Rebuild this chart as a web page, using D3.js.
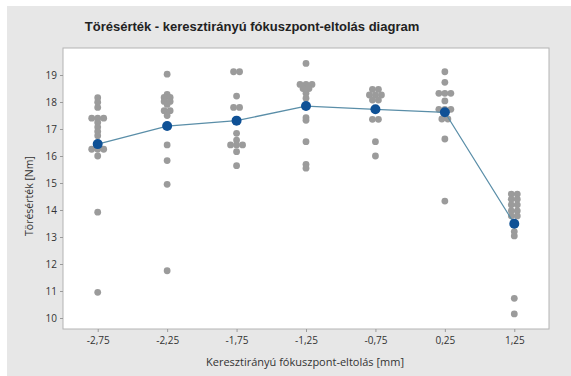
<!DOCTYPE html>
<html>
<head>
<meta charset="utf-8">
<script src="https://cdn.jsdelivr.net/npm/d3@7/dist/d3.min.js"></script>
<style>
  html, body { margin: 0; padding: 0; background: #ffffff; }
  svg { display: block; }
</style>
</head>
<body>
<svg id="chart" width="571" height="376"></svg>
<script>
// Offset categories (mm) along the x axis
const categories = ["-2,75", "-2,25", "-1,75", "-1,25", "-0,75", "0,25", "1,25"];

// Individual breaking values (Nm) per offset; repeated values sit side by side
const values_m275 = [18.16, 17.99, 17.80, 17.40, 17.40, 17.40, 17.24, 17.07, 16.91, 16.75, 16.45, 16.25, 16.25, 16.25, 16.00, 13.92, 10.95];
const values_m225 = [19.03, 18.28, 18.17, 18.17, 18.02, 18.02, 17.91, 17.68, 17.68, 17.50, 16.41, 15.83, 14.95, 11.75];
const values_m175 = [19.12, 19.12, 18.22, 17.80, 17.80, 16.84, 16.59, 16.41, 16.41, 16.41, 16.16, 15.64];
const values_m125 = [19.43, 18.65, 18.65, 18.65, 18.50, 18.50, 18.32, 18.14, 17.42, 17.32, 16.53, 15.69, 15.55];
const values_m075 = [18.47, 18.47, 18.26, 18.26, 18.26, 18.07, 18.07, 17.36, 17.36, 16.53, 16.00];
const values_p025 = [19.12, 18.73, 18.32, 18.32, 18.32, 18.04, 17.73, 17.73, 17.73, 17.37, 17.37, 16.63, 14.33];
const values_p125 = [14.59, 14.59, 14.40, 14.40, 14.19, 14.19, 13.97, 13.97, 13.78, 13.78, 13.20, 13.04, 10.73, 10.15];

// Mean breaking value per offset
const means = [16.44, 17.11, 17.31, 17.85, 17.73, 17.62, 13.49];

// y axis ticks
const yTicks = [10, 11, 12, 13, 14, 15, 16, 17, 18, 19];

const title = "Törésérték - keresztirányú fókuszpont-eltolás diagram";
const xTitle = "Keresztirányú fókuszpont-eltolás [mm]";
const yTitle = "Törésérték [Nm]";

const groups = [values_m275, values_m225, values_m175, values_m125, values_m075, values_p025, values_p125];

const svg = d3.select("#chart");
const W = 571, H = 376;
const plot = { left: 63, right: 549, top: 48, bottom: 329 };

// panel background
svg.append("rect").attr("x", 0).attr("y", 0).attr("width", W).attr("height", H).attr("fill", "#ffffff");
svg.append("rect").attr("x", 7).attr("y", 6).attr("width", W - 7).attr("height", H - 6).attr("fill", "#e7e7e7");

// plot area
svg.append("rect")
  .attr("x", plot.left).attr("y", plot.top)
  .attr("width", plot.right - plot.left).attr("height", plot.bottom - plot.top)
  .attr("fill", "#ffffff").attr("stroke", "#b4b4b4").attr("stroke-width", 1);

const x = d3.scalePoint().domain(categories).range([plot.left, plot.right]).padding(0.5);
const y = d3.scaleLinear().domain([10, 19]).range([318, 75]);

const tickFont = "'Open Sans', 'Noto Sans', sans-serif";

// x axis
const xAxis = svg.append("g")
  .attr("transform", `translate(0,${plot.bottom})`)
  .call(d3.axisBottom(x).tickSize(3).tickPadding(5));
xAxis.select(".domain").remove();
xAxis.selectAll("line").attr("stroke", "#9a9a9a");
xAxis.selectAll("text").attr("font-family", tickFont).attr("font-size", 10).attr("fill", "#333");

// y axis
const yAxis = svg.append("g")
  .attr("transform", `translate(${plot.left},0)`)
  .call(d3.axisLeft(y).tickValues(yTicks).tickFormat(d3.format("d")).tickSize(3).tickPadding(3));
yAxis.select(".domain").remove();
yAxis.selectAll("line").attr("stroke", "#9a9a9a");
yAxis.selectAll("text").attr("font-family", tickFont).attr("font-size", 10).attr("fill", "#333");

// individual values, side by side where equal
const spacing = 6;
const pts = [];
groups.forEach((vals, gi) => {
  const counts = d3.rollup(vals, v => v.length, v => v);
  const seen = new Map();
  vals.forEach(v => {
    const n = counts.get(v);
    const k = seen.get(v) || 0;
    seen.set(v, k + 1);
    pts.push({ cat: categories[gi], v, dx: (k - (n - 1) / 2) * spacing });
  });
});

svg.append("g").selectAll("circle").data(pts).join("circle")
  .attr("cx", d => x(d.cat) + d.dx)
  .attr("cy", d => y(d.v))
  .attr("r", 3.4)
  .attr("fill", "#9b9b9b");

// mean connect line
svg.append("path")
  .datum(means)
  .attr("fill", "none")
  .attr("stroke", "#5a8ea8")
  .attr("stroke-width", 1.3)
  .attr("d", d3.line().x((d, i) => x(categories[i])).y(d => y(d)));

svg.append("g").selectAll("circle").data(means).join("circle")
  .attr("cx", (d, i) => x(categories[i]))
  .attr("cy", d => y(d))
  .attr("r", 5)
  .attr("fill", "#0f5196");

// titles
svg.append("text")
  .attr("x", 252).attr("y", 31)
  .attr("text-anchor", "middle")
  .attr("font-family", "'Liberation Sans', Arial, sans-serif")
  .attr("font-weight", "bold").attr("font-size", 13)
  .attr("fill", "#222")
  .text(title);

svg.append("text")
  .attr("x", 305).attr("y", 366)
  .attr("text-anchor", "middle")
  .attr("font-family", tickFont).attr("font-size", 11)
  .attr("fill", "#333")
  .text(xTitle);

svg.append("text")
  .attr("transform", "translate(33,196) rotate(-90)")
  .attr("text-anchor", "middle")
  .attr("font-family", tickFont).attr("font-size", 10.5)
  .attr("fill", "#333")
  .text(yTitle);
</script>
</body>
</html>
